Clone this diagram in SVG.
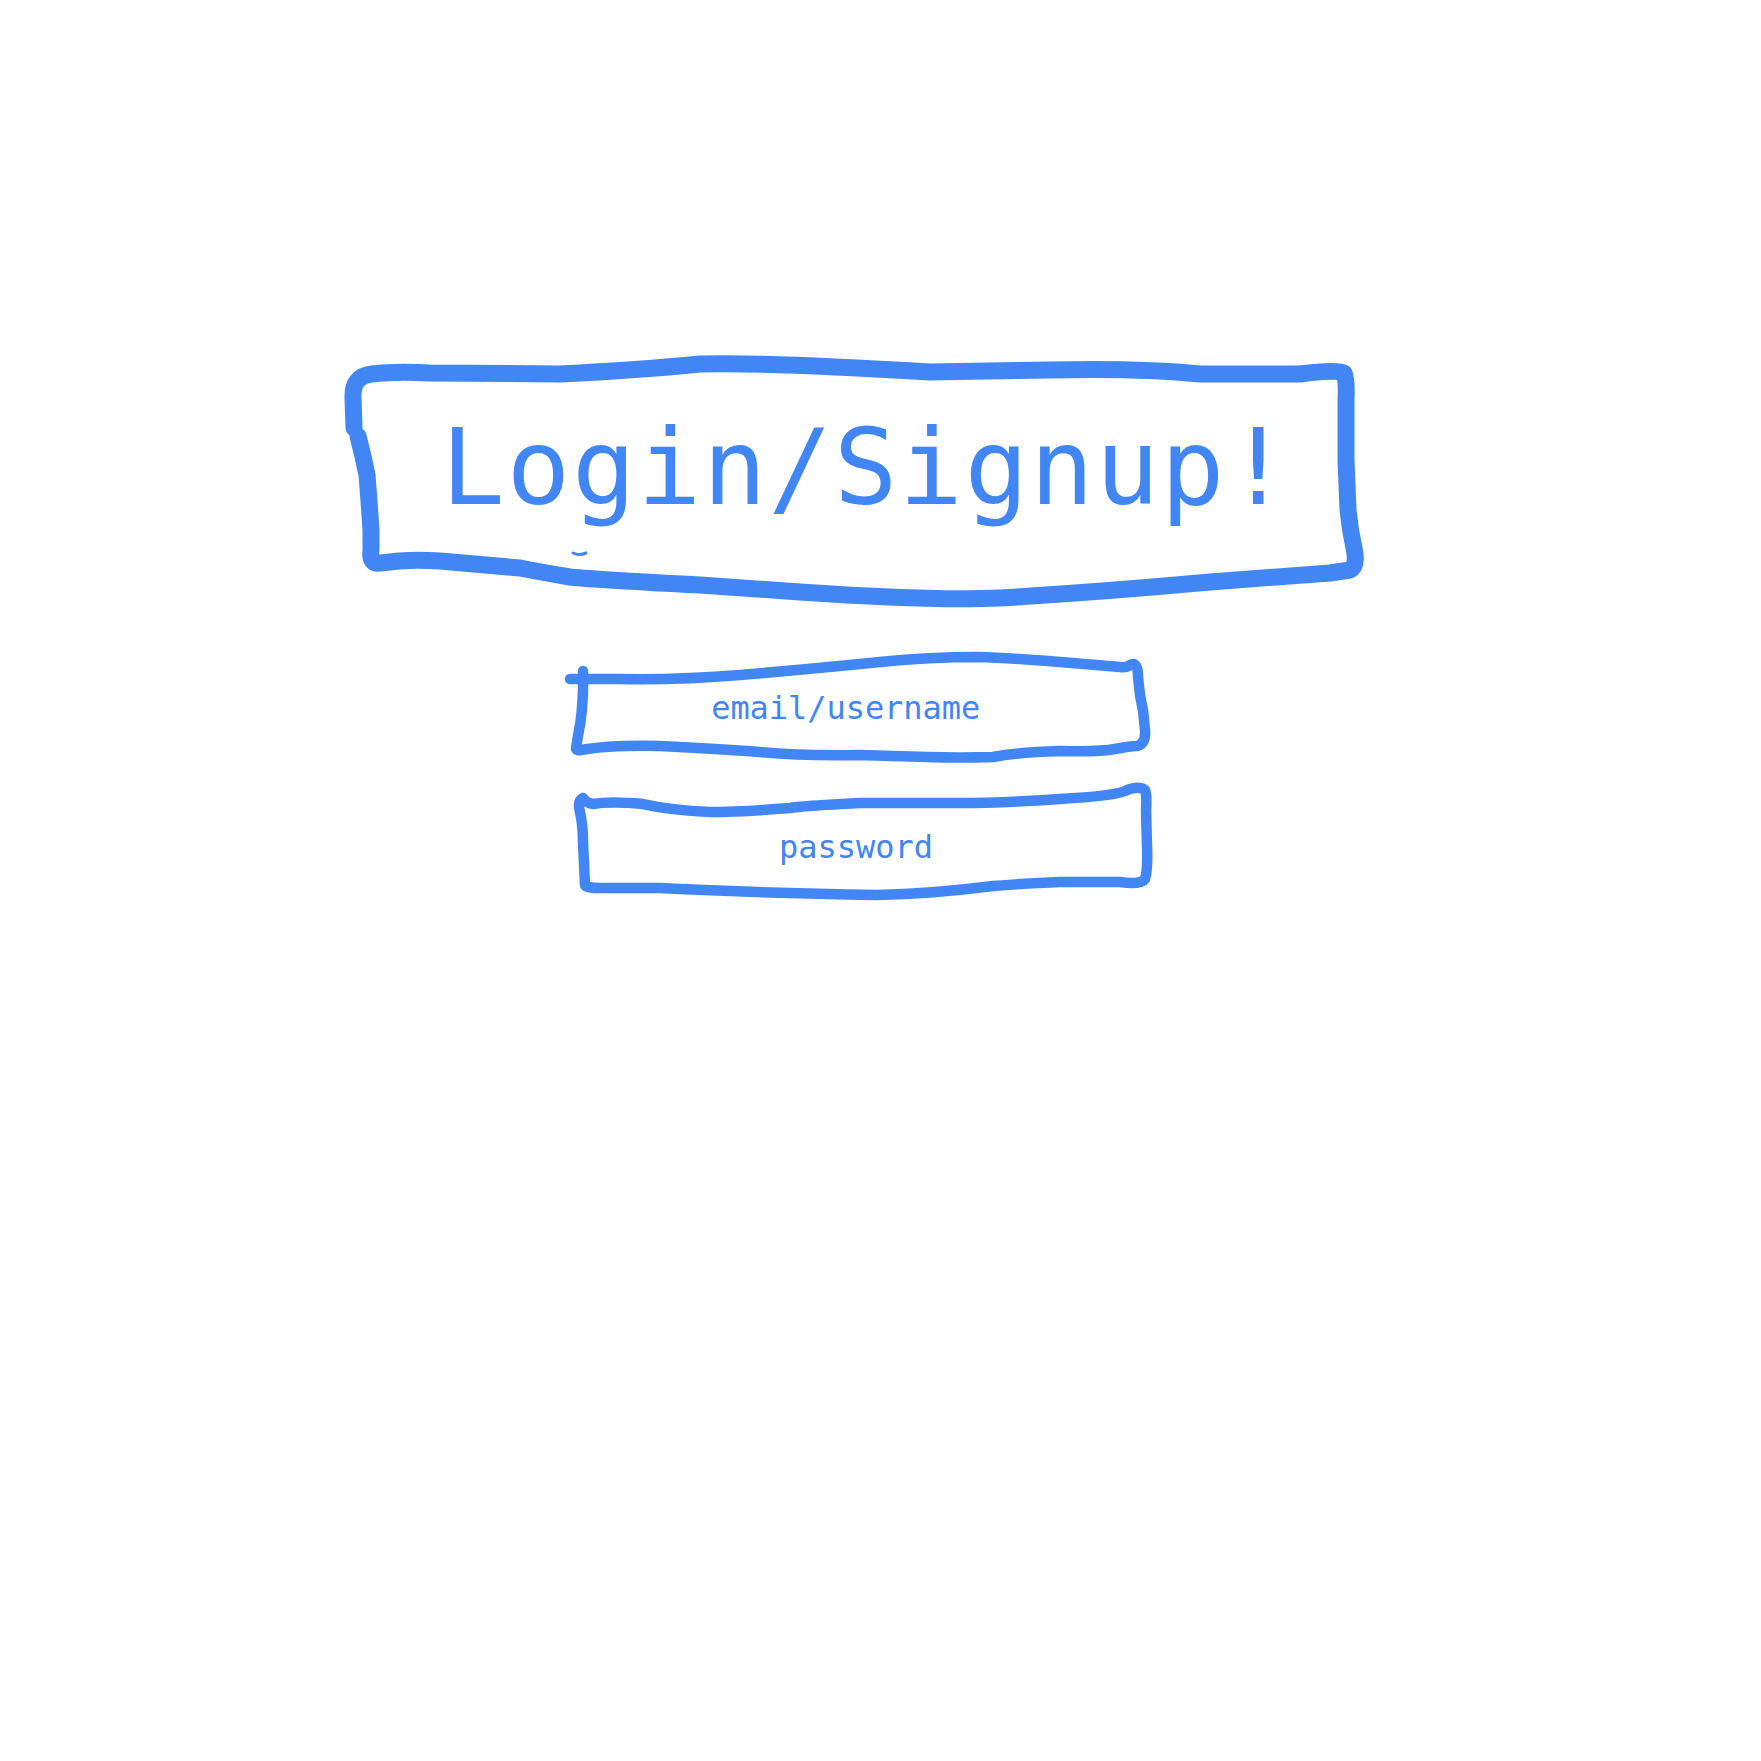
<svg xmlns="http://www.w3.org/2000/svg" width="1761" height="1761" viewBox="0 0 1761 1761">
<style>
.sk{fill:none;stroke:#4285F4;stroke-linecap:round;stroke-linejoin:round}
.big{stroke-width:17}
.small{stroke-width:10.5}
.t{fill:#4285F4;font-family:"DejaVu Sans Mono","Liberation Mono",monospace;text-anchor:middle}
</style>
<rect width="1761" height="1761" fill="#ffffff"/>
<g id="title">
<path class="sk big" d="M 354 428 L 353 398 Q 352 376 372 374 Q 395 371 430 373 L 560 374 Q 640 370 700 364 Q 760 362 930 372 L 1050 370 Q 1140 368 1200 374 L 1300 374 Q 1338 369 1344 373 Q 1347 380 1346 400 L 1346 460 L 1348 510 Q 1350 530 1354 548 Q 1358 566 1350 570 L 1330 573 L 1210 582 Q 1100 592 1000 598 Q 930 601 800 592 L 700 585 Q 600 580 570 577 Q 540 572 520 568 L 440 561 Q 410 559 390 562 L 380 563 Q 369 565 371 550 L 371 530 Q 369 500 367 475 Q 363 455 358 436"/>
<path class="sk" stroke-width="3" d="M 573 553 Q 579 556 586 553"/>
<text class="t" x="865.6" y="504" font-size="106" textLength="849" lengthAdjust="spacing">Login/Signup!</text>
</g>
<g id="email">
<path class="sk small" d="M 583 671 L 583 690 Q 582 717 579 730 L 576 748 Q 576 751 581 750 Q 610 745 660 746 Q 720 749 760 752 Q 800 756 860 755 L 927 757 Q 960 758 993 757 Q 1020 752 1060 751 Q 1100 752 1115 749 Q 1130 746 1137 746 Q 1146 744 1145 730 Q 1144 712 1140 695 L 1138 677 Q 1138 661 1130 665 Q 1126 668 1120 667 L 1060 662 Q 1010 658 977 657 Q 930 657 880 662 Q 800 670 740 675 Q 680 680 620 679 L 570 679"/>
<text class="t" x="845.7" y="719.3" font-size="32" textLength="269" lengthAdjust="spacing">email/username</text>
</g>
<g id="password">
<path class="sk small" d="M 583 798 Q 577 801 580 812 Q 583 826 583 842 L 585 885 Q 586 888 600 888 L 660 888 Q 760 893 877 895 Q 930 894 993 886 Q 1030 883 1060 882 L 1120 882 Q 1141 885 1145 879 Q 1148 870 1147 845 L 1146 810 Q 1147 796 1145 790 Q 1138 785 1125 791 Q 1113 796 1060 799 Q 1000 803 960 803 L 860 803 Q 800 806 790 808 Q 740 812 710 812 Q 670 810 643 804 Q 610 801 593 804 Q 586 803 583 798"/>
<text class="t" x="856" y="858" font-size="32" textLength="154" lengthAdjust="spacing">password</text>
</g>
</svg>
